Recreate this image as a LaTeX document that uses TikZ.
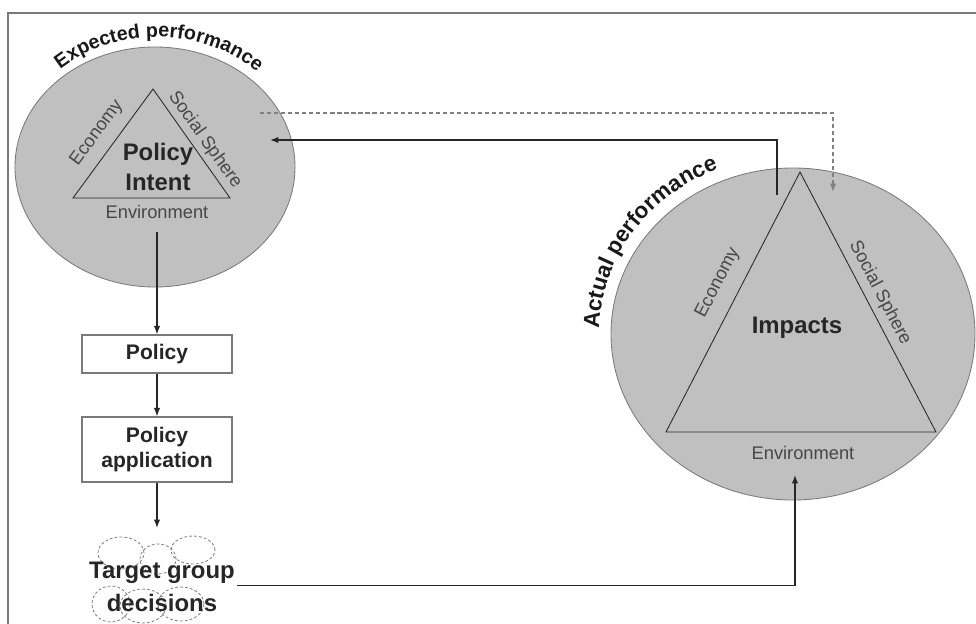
\documentclass[tikz,border=0pt]{standalone}
\usepackage{fontspec}
\setmainfont{Liberation Sans}
\usetikzlibrary{arrows.meta,decorations.text}
\definecolor{discfill}{HTML}{C0C0C0}
\definecolor{discline}{HTML}{7A7A7A}
\definecolor{inkgray}{HTML}{262626}
\definecolor{labelgray}{HTML}{474747}
\tikzset{
    disc/.style={fill=discfill, draw=discline, line width=0.6pt},
    tri/.style={draw=inkgray, line width=0.6pt},
    bigtxt/.style={font=\fontsize{17}{21}\selectfont\bfseries, text=inkgray, align=center},
    sidetxt/.style={font=\fontsize{13}{15}\selectfont, text=labelgray},
    flowbox/.style={draw=discline, fill=white, line width=0.8pt, minimum width=3.75cm,
        font=\fontsize{15}{18}\selectfont\bfseries, text=inkgray, align=center},
    link/.style={draw=inkgray, line width=0.8pt, -{Latex[length=6pt,width=4.5pt]}},
    bubble/.style={draw=gray, dash pattern=on 2pt off 1.5pt, line width=0.6pt},
}
\begin{document}
\begin{tikzpicture}[x=0.025cm, y=0.025cm]
        \useasboundingbox (0,0) rectangle (976,-624);
        %% frame
        \draw[discline, line width=1.2pt] (8,-624) -- (8,-13) -- (976,-13);
        %% expected performance
        \draw[disc] (155,-167) ellipse [x radius=140, y radius=120];
        \draw[tri] (153,-89) -- (73,-198) -- (230,-198) -- cycle;
        \node[bigtxt] (intent) at (158,-167) {Policy\\Intent};
        \node[sidetxt] (envL) at (157,-212) {Environment};
        \node[sidetxt, rotate=53.7] (ecoL) at (97,-133) {Economy};
        \node[sidetxt, rotate=-54.8] (socL) at (205,-140) {Social Sphere};
        \path[decorate, decoration={text along path, text align=center,
            text={|\fontsize{14}{17}\selectfont\bfseries\color{black!90}|Expected performance}}]
            (157,-165) ++(174:146 and 128) arc[start angle=174, end angle=4, x radius=146, y radius=128];
        %% actual performance
        \draw[disc] (793,-334) ellipse [x radius=182, y radius=166];
        \draw[tri] (800,-172) -- (666,-432) -- (936,-432) -- cycle;
        \node[bigtxt] (impacts) at (797,-328) {Impacts};
        \node[sidetxt] (envR) at (803,-453) {Environment};
        \node[sidetxt, rotate=62.7] (ecoR) at (718,-283) {Economy};
        \node[sidetxt, rotate=-62.4] (socR) at (880,-293) {Social Sphere};
        \path[decorate, decoration={text along path, text align=center,
            text={|\fontsize{16}{19}\selectfont\bfseries\color{black!90}|Actual performance}}]
            (793,-334) ++(194:194 and 179) arc[start angle=194, end angle=98, x radius=194, y radius=179];
        %% policy chain
        \node[flowbox, minimum height=0.95cm] (policy) at (157,-354) {Policy};
        \node[flowbox, minimum height=1.625cm] (apply) at (157,-449.5) {Policy\\application};
        %% target group cloud
        \foreach \cx/\cy/\rx/\ry in {121/553/23/16, 158/559/18/15, 193/550/22/14,
                                     111/604/19/18, 143/606/23/17, 181/604/23/17}
            \draw[bubble] (\cx,-\cy) ellipse [x radius=\rx, y radius=\ry];
        \node[bigtxt, inner sep=1pt] (tgroup) at (162,-573) {Target group};
        \node[bigtxt, inner sep=1pt] (tdec) at (162,-603) {decisions};
        \coordinate (cloud) at (157,-528);
        %% connectors
        \coordinate (inR) at (795,-475);
        \coordinate (outR) at (777,-195);
        \coordinate (inL) at (270,-140);
        \coordinate (dashL) at (260,-113);
        \coordinate (dashR) at (833,-192);
        \draw[link, shorten <=6pt] (envL.south) -- (policy.north);
        \draw[link] (policy) -- (apply);
        \draw[link] (apply) -- (cloud);
        \draw[link] (tgroup.south east) -| (inR);
        \draw[link] (outR) |- (inL);
        \draw[link, draw=gray, dash pattern=on 3pt off 2pt] (dashL) -| (dashR);
    \end{tikzpicture}
\end{document}
